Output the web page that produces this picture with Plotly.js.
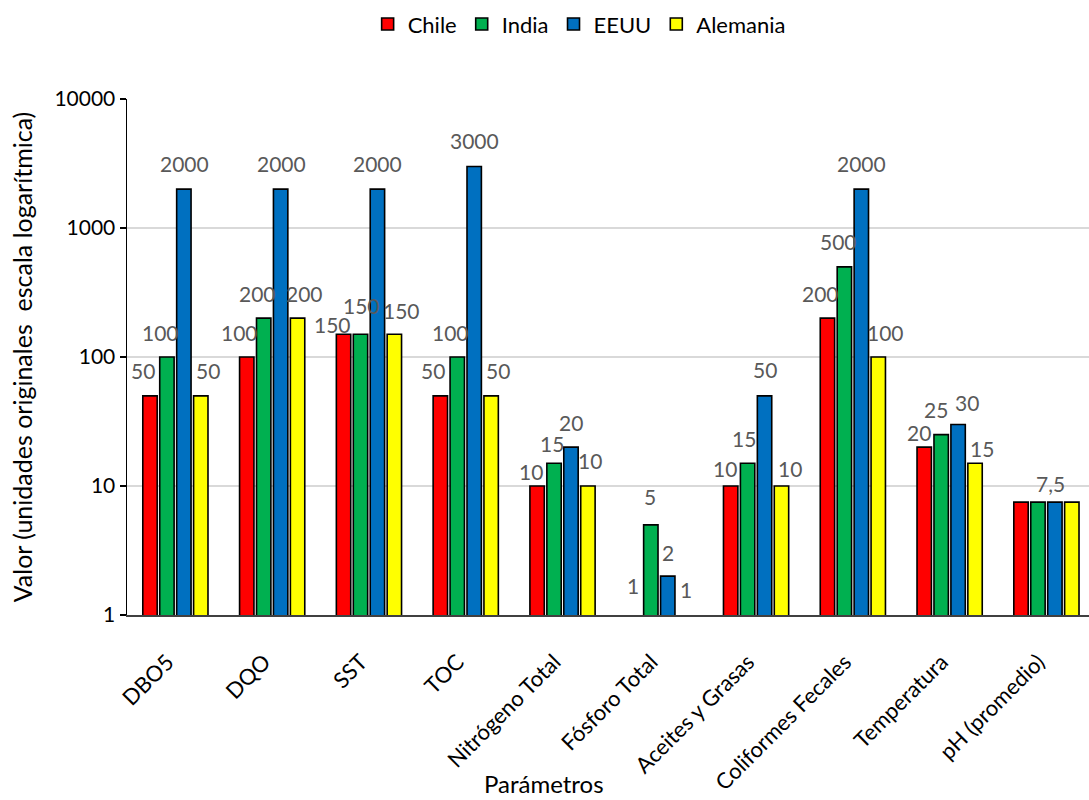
<!DOCTYPE html>
<html>
<head>
<meta charset="utf-8">
<script src="https://cdn.plot.ly/plotly-3.0.1.min.js"></script>
<style>html,body{margin:0;padding:0;background:#fff;}#chart{width:1089px;height:800px;}</style>
</head>
<body>
<div id="chart"></div>
<script>
const categories = ["DBO5", "DQO", "SST", "TOC", "Nitrógeno Total", "Fósforo Total", "Aceites y Grasas", "Coliformes Fecales", "Temperatura", "pH (promedio)"];
const chile    = [50, 100, 150, 50, 10, 1, 10, 200, 20, 7.5];
const india    = [100, 200, 150, 100, 15, 5, 15, 500, 25, 7.5];
const eeuu     = [2000, 2000, 2000, 3000, 20, 2, 50, 2000, 30, 7.5];
const alemania = [50, 200, 150, 50, 10, 1, 10, 100, 15, 7.5];
const seriesNames = ["Chile", "India", "EEUU", "Alemania"];
const tickValues = [1, 10, 100, 1000, 10000];
const tickLabels = ["1", "10", "100", "1000", "10000"];
const xTitle = "Parámetros";
const yTitle = "Valor (unidades originales  escala logarítmica)";

const colors = ["#FF0000", "#00B050", "#0070C0", "#FFFF00"];
const allSeries = [chile, india, eeuu, alemania];
const FONT = "Lato, 'Open Sans', sans-serif";

const traces = allSeries.map((vals, i) => ({
  type: "bar",
  name: seriesNames[i],
  x: categories,
  y: vals,
  marker: {color: colors[i], line: {color: "#000000", width: vals.map(v => v <= 1 ? 0 : 1.6)}},
  hoverinfo: "x+y+name"
}));

// label placement (pixel nudges, style only): default per series, with a few per-category tweaks
const fmt = v => String(v).replace(".", ",");
const pitch = 17.7;
const defaultDx = [-6, -6, 0, 6];
const defaultDy = [25, 25, 26, 25];
const labelTweaks = {
  2: {dx: [-10, 1, 0, 6], dy: [10, 29, 26, 24]},
  4: {dx: [-5, -2, 0, 1], dy: [15, 20, 25, 26]},
  5: {dx: [0, 0, 0, 0], dy: [30, 28, 24, 26]},
  6: {dx: [-5, -3, 0, 7], dy: [18, 25, 26, 18]},
  8: {dx: [-4, -5, 9, 6], dy: [15, 25, 22, 15]}
};
const annotations = [];
allSeries.forEach((vals, s) => {
  vals.forEach((v, j) => {
    const allSame = allSeries.every(a => a[j] === v);
    if (allSame) {
      if (s !== 0) return;
      annotations.push({x: j, y: Math.log10(v), xref: "x", yref: "y", text: fmt(v), showarrow: false,
        yanchor: "middle", xanchor: "center", yshift: 19, xshift: 4,
        font: {family: FONT, size: 21, color: "#595959"}});
      return;
    }
    const t = labelTweaks[j];
    const dx = t ? t.dx[s] : defaultDx[s];
    const dy = t ? t.dy[s] : defaultDy[s];
    annotations.push({x: j, y: Math.log10(v), xref: "x", yref: "y", text: fmt(v), showarrow: false,
      yanchor: "middle", xanchor: "center", yshift: dy, xshift: (s - 1.5) * pitch + dx,
      font: {family: FONT, size: 21, color: "#595959"}});
  });
});
// x-axis title (placed left of centre, as in the original)
annotations.push({xref: "paper", yref: "paper", x: 0.4335, y: -0.326, text: xTitle, showarrow: false,
  xanchor: "center", yanchor: "middle", font: {family: FONT, size: 24, color: "#000000"}});

const layout = {
  width: 1089, height: 800,
  margin: {l: 127, r: 0, t: 99, b: 185},
  paper_bgcolor: "#ffffff", plot_bgcolor: "#ffffff",
  font: {family: FONT, color: "#000000"},
  barmode: "group", bargap: 0.30, bargroupgap: 0.15,
  showlegend: true,
  legend: {orientation: "h", x: 0.47, xanchor: "center", y: 1.145, yanchor: "middle",
    font: {family: FONT, size: 22, color: "#000000"},
    itemwidth: 30, traceorder: "normal"},
  xaxis: {type: "category", range: [-0.5, 9.44], showgrid: false, showline: true, linecolor: "#404040", linewidth: 1.5,
    ticks: "", tickangle: -45, tickfont: {family: FONT, size: 22, color: "#000000"},
    ticklabelstandoff: 24, ticklabelshift: -8,
    automargin: false},
  yaxis: {type: "log", range: [0, 4], tickvals: tickValues, ticktext: tickLabels,
    showgrid: true, gridcolor: "#D9D9D9", gridwidth: 1.3, showline: true, linecolor: "#000000", linewidth: 1.5,
    ticks: "outside", ticklen: 6, tickcolor: "#000000", tickwidth: 1.3,
    tickfont: {family: FONT, size: 21, color: "#000000"},
    title: {text: yTitle, font: {family: FONT, size: 25, color: "#000000"}, standoff: 14},
    automargin: false, zeroline: false},
  annotations: annotations
};

Plotly.newPlot("chart", traces, layout, {displayModeBar: false, staticPlot: true});
</script>
</body>
</html>
